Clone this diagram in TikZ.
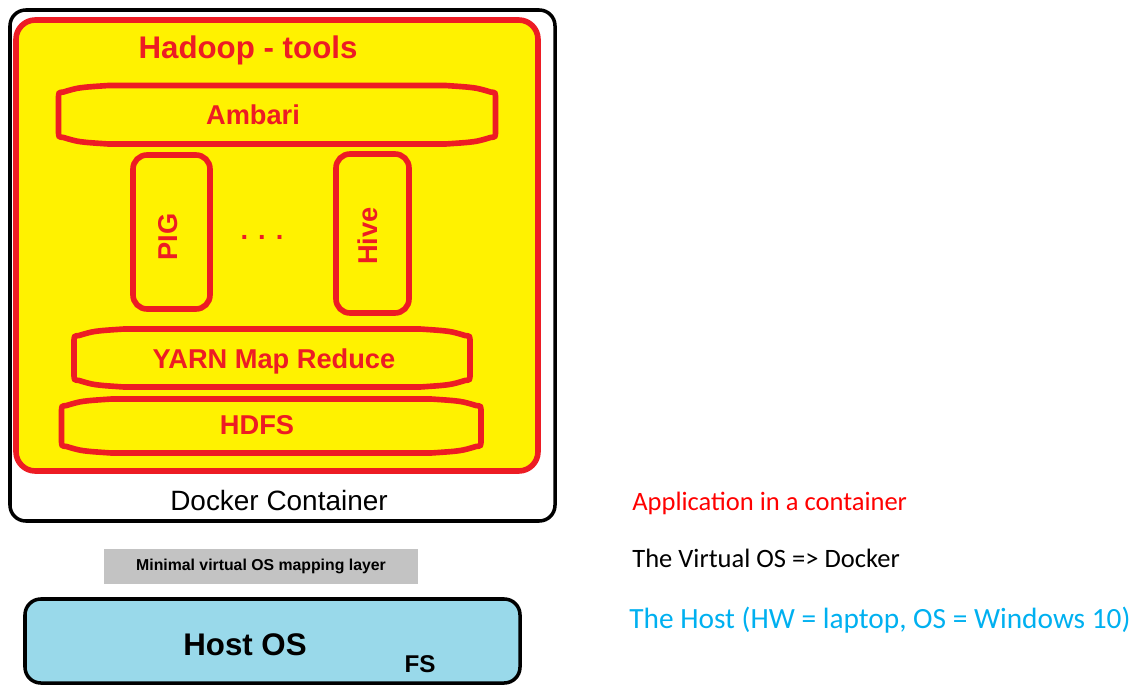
\documentclass[tikz,border=0pt]{standalone}
\usepackage{fontspec}
\setmainfont{Liberation Sans}
\newfontfamily\notefont{Carlito}
\usepackage{tikz}
\usetikzlibrary{positioning, calc}

\definecolor{paintred}{HTML}{ED1C24}
\definecolor{paintyellow}{HTML}{FFF200}
\definecolor{hostblue}{HTML}{99D9EA}
\definecolor{layergray}{HTML}{C3C3C3}
\definecolor{noteblue}{HTML}{00B0F0}

% barrel shaped tool: x1, y1, x2, y2 (flat top and bottom)
\newcommand{\toolbarrel}[4]{%
  \draw[tool] (#1, #2+13) .. controls (#1, #2+7) .. (#1+5, #2+6.5)
    .. controls (#1+20, #2+2) .. (#1+50, #2) -- (#3-50, #2)
    .. controls (#3-20, #2+2) .. (#3-5, #2+6.5)
    .. controls (#3, #2+7) .. (#3, #2+13) -- (#3, #4-13)
    .. controls (#3, #4-7) .. (#3-5, #4-6.5)
    .. controls (#3-20, #4-2) .. (#3-50, #4) -- (#1+50, #4)
    .. controls (#1+20, #4-2) .. (#1+5, #4-6.5)
    .. controls (#1, #4-7) .. (#1, #4-13) -- cycle;}

\begin{document}
\begin{tikzpicture}[
    x=0.02cm, y=-0.02cm,
    tool/.style={draw=paintred, line width=3.2pt, fill=paintyellow},
    toolname/.style={text=paintred, font=\fontsize{15.5}{18}\selectfont\bfseries, text depth=0pt, inner sep=0pt},
    container/.style={draw=black, line width=2pt, rounded corners=9pt},
    note/.style={anchor=base west, inner sep=0pt, font=\notefont\fontsize{15.1}{18}\selectfont}
]
\useasboundingbox (0,0) rectangle (1139,686);

% Docker container
\draw[container, fill=white] (10,10) rectangle (555,521);
\draw[tool, rounded corners=11pt] (16,20) rectangle (538,471);
\node[anchor=base, inner sep=0pt, text=paintred, font=\fontsize{17.8}{20}\selectfont\bfseries] (hadoop) at (248,59) {Hadoop - tools};

% Tools
\toolbarrel{58.5}{85.5}{495.5}{144}
\node[toolname] (ambari) at (253,115) {Ambari};
\draw[tool, rounded corners=8pt] (133,155) rectangle (210,309);
\draw[tool, rounded corners=8pt] (336,154) rectangle (409,313);
\node[toolname, rotate=90] (pig) at (168,237) {PIG};
\node[toolname, rotate=90] (hive) at (368,236) {Hive};
\node[toolname] (dots) at (262,237) {. . .};
\toolbarrel{74}{329}{470}{387}
\node[toolname] (yarn) at (274,359) {YARN Map Reduce};
\toolbarrel{61.5}{399}{481}{453}
\node[toolname] (hdfs) at (257,425) {HDFS};

\node[anchor=base, inner sep=0pt, font=\fontsize{15.9}{18}\selectfont] (docker) at (279,510) {Docker Container};

% Mapping layer
\node[fill=layergray, minimum width=314*0.02cm, minimum height=35*0.02cm, inner sep=0pt, font=\fontsize{9}{11}\selectfont\bfseries] (layer) at (261,566.5) {Minimal virtual OS mapping layer};

% Host
\draw[container, fill=hostblue] (25,599) rectangle (520,683);
\node[anchor=base, inner sep=0pt, font=\fontsize{17.8}{20}\selectfont\bfseries] (hostos) at (245,655) {Host OS};
\node[anchor=base, inner sep=0pt, font=\fontsize{13.8}{16}\selectfont\bfseries] (fs) at (420,672) {FS};

% Notes
\node[note, text=red] (appnote) at (632,510) {Application in a container};
\node[note] (virtnote) at (632,567) {The Virtual OS => Docker};
\node[note, text=noteblue, font=\notefont\fontsize{16.7}{20}\selectfont] (hostnote) at (629,628) {The Host (HW = laptop, OS = Windows 10)};

\end{tikzpicture}
\end{document}
